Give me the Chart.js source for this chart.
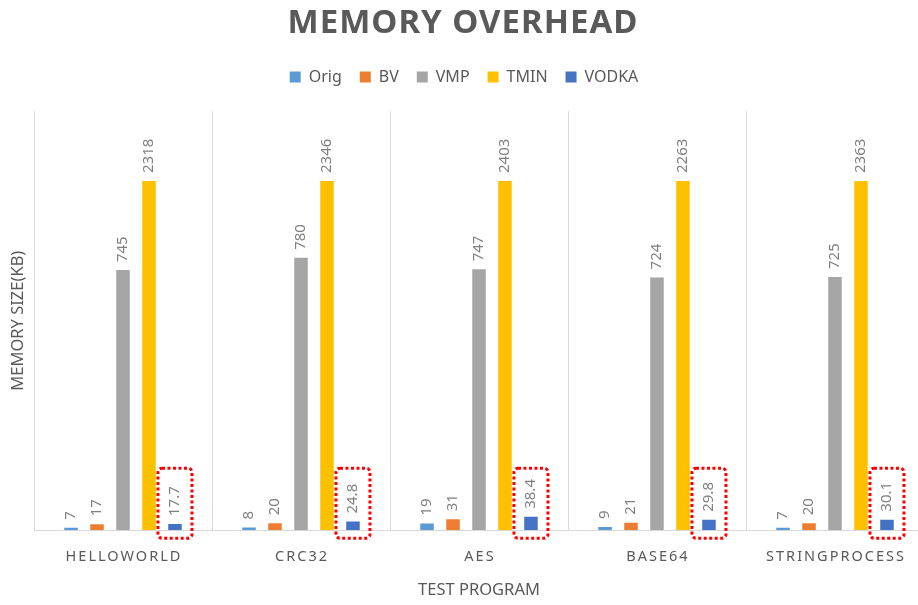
<!DOCTYPE html>
<html>
<head>
<meta charset="utf-8">
<script src="https://cdn.jsdelivr.net/npm/chart.js@4.4.1/dist/chart.umd.min.js"></script>
<style>
  html, body { margin: 0; padding: 0; background: #fff; overflow: hidden; }
  #wrap { width: 926px; height: 605px; }
</style>
</head>
<body>
<div id="wrap"><canvas id="memChart" width="926" height="605"></canvas></div>
<script>
// Datos de memoria (KB) por programa de prueba
const categories = ['HELLOWORLD', 'CRC32', 'AES', 'BASE64', 'STRINGPROCESS'];
const origValues = [7, 8, 19, 9, 7];
const bvValues = [17, 20, 31, 21, 20];
const vmpValues = [745, 780, 747, 724, 725];
const tminValues = [2318, 2346, 2403, 2263, 2363];
const vodkaValues = [17.7, 24.8, 38.4, 29.8, 30.1];
const axisMax = 1000;   // el eje corta en 1000, las barras TMIN se recortan
const frameMax = 1200;  // altura hasta donde suben las líneas separadoras

const textGray = '#595959';
const lineGray = '#d9d9d9';

Chart.defaults.font.family = "'Noto Sans', 'DejaVu Sans', sans-serif";
Chart.defaults.color = textGray;

// Título, separadores, etiquetas de categoría, valores y recuadros rojos
const decoraciones = {
    id: 'decoraciones',
    beforeInit(chart) {
        const legend = chart.legend;
        const fitOrig = legend.fit;
        legend.fit = function () {
            fitOrig.call(this);
            this.height += 86;
        };
    },
    beforeDatasetsDraw(chart) {
        const { ctx, chartArea } = chart;
        const y = chart.scales.y;
        const step = (chartArea.right - chartArea.left) / categories.length;
        const top = y.getPixelForValue(frameMax);
        ctx.save();
        ctx.strokeStyle = lineGray;
        ctx.lineWidth = 1;
        for (let i = 0; i <= categories.length; i++) {
            const px = Math.round(chartArea.left + i * step) + 0.5;
            ctx.beginPath();
            ctx.moveTo(px, top);
            ctx.lineTo(px, chartArea.bottom);
            ctx.stroke();
        }
        ctx.restore();
    },
    afterDatasetsDraw(chart) {
        const { ctx, chartArea } = chart;
        const base = chart.scales.y.getPixelForValue(0);
        ctx.save();
        ctx.font = "15px 'Noto Sans', sans-serif";
        ctx.fillStyle = '#808080';
        ctx.textAlign = 'left';
        ctx.textBaseline = 'middle';
        chart.data.datasets.forEach((ds, di) => {
            chart.getDatasetMeta(di).data.forEach((bar, i) => {
                const yTop = Math.max(bar.y, chartArea.top);
                ctx.save();
                ctx.translate(bar.x, yTop - 8);
                ctx.rotate(-Math.PI / 2);
                ctx.fillText(String(ds.data[i]), 0, 0);
                ctx.restore();
            });
        });
        // recuadro punteado alrededor de VODKA
        const vodkaMeta = chart.getDatasetMeta(4);
        ctx.strokeStyle = '#ff0000';
        ctx.lineWidth = 3;
        ctx.setLineDash([3, 2.5]);
        vodkaMeta.data.forEach(bar => {
            ctx.beginPath();
            ctx.roundRect(bar.x - 17, base - 62, 34, 70, 4);
            ctx.stroke();
        });
        ctx.restore();
    },
    afterDraw(chart) {
        const { ctx, chartArea } = chart;
        const x = chart.scales.x;
        const y = chart.scales.y;
        ctx.save();
        ctx.fillStyle = textGray;
        ctx.textAlign = 'center';
        ctx.textBaseline = 'middle';
        ctx.font = "bold 33px 'Noto Sans', sans-serif";
        ctx.letterSpacing = '1px';
        ctx.fillText('MEMORY OVERHEAD', chart.width / 2, 24);
        ctx.font = "14.5px 'Noto Sans', sans-serif";
        ctx.letterSpacing = '2px';
        categories.forEach((c, i) => {
            ctx.fillText(c, x.getPixelForValue(i) + 1, chartArea.bottom + 27);
        });
        // título del eje Y, centrado en todo el marco
        ctx.letterSpacing = '0px';
        ctx.font = "16.5px 'Noto Sans', sans-serif";
        const midY = (y.getPixelForValue(frameMax) + chartArea.bottom) / 2;
        ctx.translate(18, midY);
        ctx.rotate(-Math.PI / 2);
        ctx.fillText('MEMORY SIZE(KB)', 0, 0);
        ctx.restore();
    }
};

const ctx = document.getElementById('memChart').getContext('2d');
new Chart(ctx, {
    type: 'bar',
    data: {
        labels: categories,
        datasets: [
            { label: 'Orig', data: origValues, backgroundColor: '#5b9bd5' },
            { label: 'BV', data: bvValues, backgroundColor: '#ed7d31' },
            { label: 'VMP', data: vmpValues, backgroundColor: '#a5a5a5' },
            { label: 'TMIN', data: tminValues, backgroundColor: '#ffc000' },
            { label: 'VODKA', data: vodkaValues, backgroundColor: '#4472c4' }
        ]
    },
    options: {
        responsive: false,
        animation: false,
        categoryPercentage: 0.73,
        barPercentage: 0.52,
        layout: {
            padding: { top: 51, left: 4, right: 2, bottom: 5 }
        },
        plugins: {
            legend: {
                position: 'top',
                labels: {
                    boxWidth: 11,
                    boxHeight: 11,
                    padding: 18,
                    color: textGray,
                    font: { size: 16 }
                }
            },
            tooltip: { enabled: false }
        },
        scales: {
            x: {
                grid: { display: false, drawTicks: false },
                border: { display: true, color: lineGray, width: 1 },
                ticks: { display: false },
                title: {
                    display: true,
                    text: 'TEST PROGRAM',
                    color: textGray,
                    font: { size: 16.5 },
                    padding: { top: 50, bottom: 0 }
                }
            },
            y: {
                min: 0,
                max: axisMax,
                grid: { display: false, drawTicks: false },
                border: { display: false },
                ticks: { display: false },
                // espacio reservado para el título vertical
                afterFit(scale) { scale.width = 30; }
            }
        }
    },
    plugins: [decoraciones]
});
</script>
</body>
</html>
